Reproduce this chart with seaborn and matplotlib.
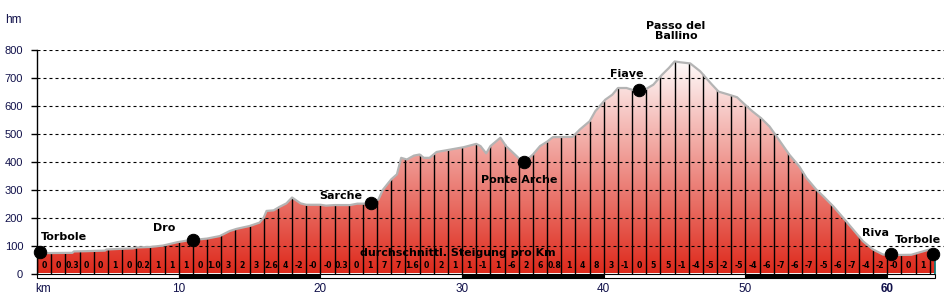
import numpy as np
import pandas as pd
import matplotlib
matplotlib.use('Agg')
import matplotlib.pyplot as plt
import seaborn as sns
from matplotlib.patches import Rectangle
from matplotlib.colors import LinearSegmentedColormap

# ---------------- data ----------------
km = [0.0, 0.5, 2.5, 2.6, 3.5, 4.8, 4.9, 5.8, 6.8, 7.0, 8.0, 8.9, 9.9, 10.6, 11.0,
      12.0, 12.9, 13.6, 14.1, 15.0, 15.7, 16.0, 16.2, 16.7, 17.1, 17.6, 18.0, 18.6,
      19.0, 20.0, 20.4, 21.0, 22.1, 22.6, 23.3, 23.6, 24.1, 24.4, 25.0, 25.4, 25.7,
      26.1, 26.6, 27.0, 27.3, 27.7, 28.2, 29.1, 30.1, 31.0, 31.3, 31.7, 32.0, 32.7,
      33.1, 33.6, 34.1, 34.4, 35.0, 35.5, 36.0, 36.4, 37.8, 38.3, 39.0, 39.4, 40.1,
      40.6, 41.0, 41.6, 42.1, 42.5, 43.0, 43.5, 44.1, 44.6, 45.0, 45.4, 46.1, 46.8,
      47.3, 47.6, 48.1, 48.7, 49.4, 50.1, 50.5, 51.1, 51.7, 52.2, 53.1, 53.8, 54.3,
      55.0, 55.5, 56.2, 57.1, 57.8, 58.3, 59.0, 59.7, 60.3, 61.7, 62.3, 63.0, 63.4]
elev = [72, 73, 74, 79, 80, 82, 86, 88, 90, 93, 95, 100, 112, 118, 120,
        125, 134, 152, 160, 170, 182, 200, 224, 226, 238, 251, 272, 251,
        246, 246, 243, 245, 245, 250, 250, 251, 265, 299, 337, 355, 414,
        408, 422, 426, 414, 414, 435, 443, 452, 464, 456, 430, 456, 486,
        456, 432, 408, 399, 426, 456, 472, 488, 489, 515, 545, 581, 622,
        640, 664, 664, 656, 656, 661, 676, 711, 736, 759, 756, 752, 724,
        695, 678, 651, 642, 631, 598, 580, 556, 526, 490, 425, 383, 342,
        300, 276, 240, 187, 145, 115, 86, 68, 66, 67, 76, 86, 85]

gradient_labels = ["0", "0", "0.3", "0", "0", "1", "0", "0.2", "1", "1",
                   "1", "0", "1.0", "3", "2", "3", "2.6", "4", "-2", "-0",
                   "-0", "0.3", "0", "1", "7", "7", "1.6", "0", "2", "1",
                   "1", "-1", "1", "-6", "2", "6", "0.8", "1", "4", "8",
                   "3", "-1", "0", "5", "5", "-1", "-4", "-5", "-2", "-5",
                   "-4", "-6", "-7", "-6", "-7", "-5", "-6", "-7", "-4", "-2",
                   "-0", "0", "1"]

place_names = ["Torbole", "Dro", "Sarche", "Ponte Arche", "Fiave", "Riva", "Torbole"]
place_km = [0.2, 11.0, 23.6, 34.4, 42.5, 60.3, 63.2]
place_elev = [77, 120, 251, 399, 656, 69, 69]

y_ticks = [0, 100, 200, 300, 400, 500, 600, 700, 800]
x_ticks = [10, 20, 30, 40, 50, 60]

# ---------------- style ----------------
sns.set_style('white')
plt.rcParams['font.family'] = ['DejaVu Sans']

W, H = 945, 299
fig = plt.figure(figsize=(W / 100, H / 100), dpi=100)
x0_px, y0_px, y800_px = 37, 273.5, 50
px_per_km = 14.17
ax = fig.add_axes([x0_px / W, (H - y0_px) / H, (W - x0_px) / W, (y0_px - y800_px) / H])
xmax = (W - x0_px) / px_per_km

df = pd.DataFrame({'km': km, 'elev': elev})

# gradient fill under the profile
poly = ax.fill_between(df['km'], 0, df['elev'], color='none', lw=0)
cmap = LinearSegmentedColormap.from_list('prof', ['#de2a1c', '#ffffff'])
grad = np.linspace(0, 1, 256).reshape(-1, 1)
im = ax.imshow(grad, extent=[0, km[-1], 0, 775], origin='lower', aspect='auto',
               cmap=cmap, zorder=1, interpolation='bilinear')
im.set_clip_path(poly.get_paths()[0], transform=ax.transData)

# km separator lines
kms = np.arange(0, int(km[-1]) + 1)
ax.vlines(kms, 0, np.interp(kms, km, elev), color='black', lw=1, zorder=2)
ax.vlines([km[-1]], 0, [elev[-1]], color='#008080', lw=1.2, zorder=2)

# grid
ax.hlines(y_ticks[1:], 0, xmax, color='black', lw=0.8, linestyles=(0, (2.7, 2.7)), zorder=2.5)

# profile outline
sns.lineplot(data=df, x='km', y='elev', color='#b4b4b4', lw=1.6, zorder=3, ax=ax)

# markers
sns.scatterplot(x=place_km, y=place_elev, color='black', s=80, edgecolor='black',
                zorder=5, ax=ax, clip_on=False)

lab_kw = dict(fontsize=8, fontweight='bold', color='black', zorder=6)
ax.text(0.28, 131, "Torbole", ha='left', va='center', **lab_kw)
ax.text(9.0, 163, "Dro", ha='center', va='center', **lab_kw)
ax.text(21.45, 277, "Sarche", ha='center', va='center', **lab_kw)
ax.text(34.0, 335, "Ponte Arche", ha='center', va='center', **lab_kw)
ax.text(41.6, 714, "Fiave", ha='center', va='center', **lab_kw)
ax.text(45.1, 868, "Passo del\nBallino", ha='center', va='center', linespacing=1.0,
        clip_on=False, **lab_kw)
ax.text(59.2, 145, "Riva", ha='center', va='center', **lab_kw)
ax.text(62.2, 120, "Torbole", ha='center', va='center', clip_on=False, **lab_kw)
ax.text(29.7, 73, "durchschnittl. Steigung pro Km", ha='center', va='center', **lab_kw)

for i, g in enumerate(gradient_labels):
    ax.text(i + 0.5, 27, g, ha='center', va='center', fontsize=5.6,
            fontweight='bold', color='black', zorder=6)

# bottom alternating bar
bar_y, bar_h = -16, 14
for s in range(0, int(np.ceil(km[-1])), 10):
    e = min(s + 10, km[-1])
    black = (s // 10) % 2 == 1
    ax.add_patch(Rectangle((s, bar_y), e - s, bar_h, facecolor='black' if black else 'white',
                           edgecolor='black', lw=0.8, clip_on=False, zorder=4))

# axes formatting
ax.set_xlim(0, xmax)
ax.set_ylim(0, 800)
ax.set_yticks(y_ticks)
ax.set_yticklabels([str(v) for v in y_ticks], fontsize=8, color='#10104a',
                   family=['Liberation Sans', 'DejaVu Sans'])
ax.tick_params(axis='y', left=True, length=4, width=1, color='black', pad=6, direction='out')
ax.set_xticks([])
ax.set_xlabel('')
ax.set_ylabel('')
for sp in ['top', 'right', 'bottom']:
    ax.spines[sp].set_visible(False)
ax.spines['left'].set_color('black')
ax.spines['left'].set_linewidth(1)
ax.spines['left'].set_zorder(7)

for t in x_ticks:
    ax.text(t, -55, str(t), ha='center', va='center', fontsize=8.5, color='#10104a',
            family=['Liberation Sans', 'DejaVu Sans'],
            fontweight='bold' if t == 60 else 'normal', clip_on=False)
ax.text(-0.15, -55, 'km', ha='left', va='center', fontsize=8.5, color='#10104a',
        family=['Liberation Sans', 'DejaVu Sans'], clip_on=False)
fig.text(5 / W, 1 - 20 / H, 'hm', ha='left', va='center', fontsize=8.5, color='#10104a',
         family=['Liberation Sans', 'DejaVu Sans'])

fig.savefig('out.png', dpi=100)
